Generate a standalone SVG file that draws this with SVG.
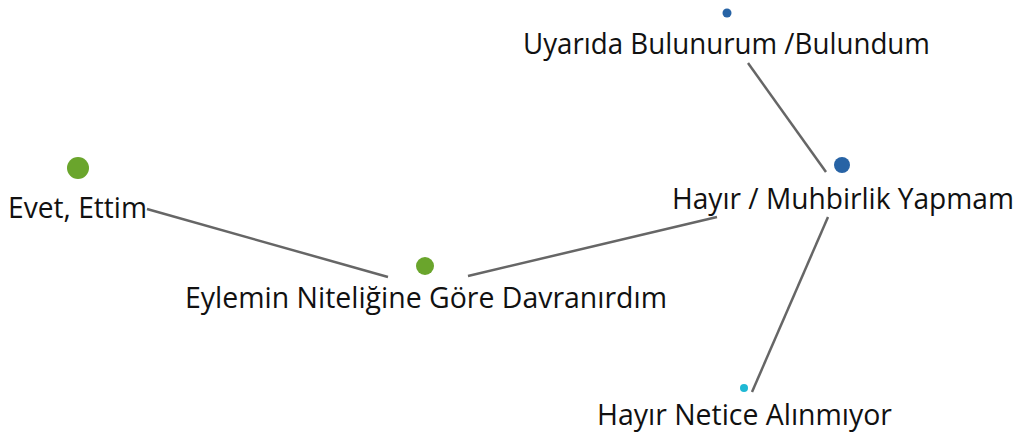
<svg xmlns="http://www.w3.org/2000/svg" width="1019" height="439" viewBox="0 0 1019 439">
<style>
text{font-family:"Open Sans","Noto Sans","DejaVu Sans",sans-serif;font-size:29px;fill:#111;text-anchor:middle}
.c line{stroke:#666;stroke-width:2.5}
.b{fill:#2763a5}.g{fill:#6aa52c}.t{fill:#1fb8d4}
</style>
<rect width="1019" height="439" fill="#fff"/>
<g class="c" id="connectors">
<line x1="147" y1="209" x2="388" y2="277"/>
<line x1="468" y1="276" x2="717" y2="217"/>
<line x1="748" y1="63" x2="826" y2="172"/>
<line x1="828" y1="217" x2="752" y2="392"/>
</g>
<g id="n1"><circle class="b" cx="727" cy="13" r="4.5"/><text x="726.5" y="54" textLength="407" lengthAdjust="spacingAndGlyphs">Uyarıda Bulunurum /Bulundum</text></g>
<g id="n2"><circle class="b" cx="842" cy="165" r="8"/><text x="843" y="209" textLength="342" lengthAdjust="spacingAndGlyphs">Hayır / Muhbirlik Yapmam</text></g>
<g id="n3"><circle class="g" cx="78" cy="168" r="11"/><text x="77.5" y="218" textLength="139" lengthAdjust="spacingAndGlyphs">Evet, Ettim</text></g>
<g id="n4"><circle class="g" cx="425" cy="266" r="9"/><text x="426" y="308" textLength="482" lengthAdjust="spacingAndGlyphs">Eylemin Niteliğine Göre Davranırdım</text></g>
<g id="n5"><circle class="t" cx="744" cy="388" r="4"/><text x="744.5" y="425" textLength="295" lengthAdjust="spacingAndGlyphs">Hayır Netice Alınmıyor</text></g>
</svg>
